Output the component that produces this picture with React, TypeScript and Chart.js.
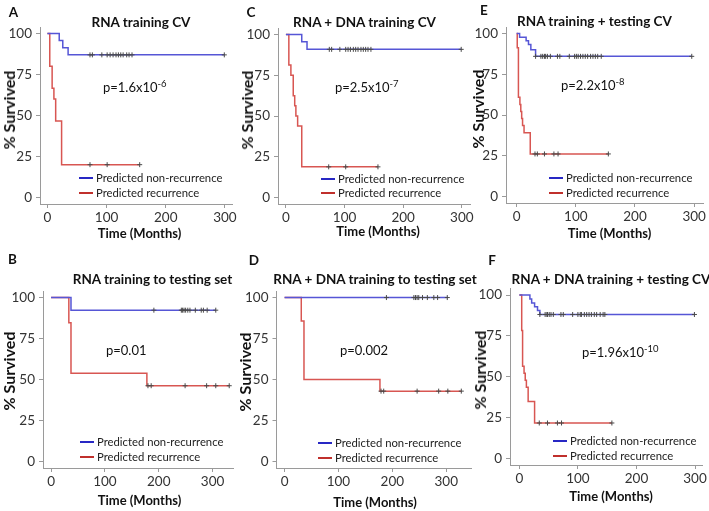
import React, { useEffect, useRef } from "react";
import { Chart, registerables } from "chart.js";

Chart.register(...registerables);

const FONT = "Lato, 'Open Sans', 'DejaVu Sans', sans-serif";
Chart.defaults.font.family = FONT;

// ---------- shared labels / ticks ----------
const X_TICKS = [0, 100, 200, 300];
const Y_TICKS = [0, 25, 50, 75, 100];
const SERIES_LABELS = ["Predicted non-recurrence", "Predicted recurrence"];
const X_TITLE = "Time (Months)";
const Y_TITLE = "% Survived";

// ---------- Panel A: RNA training CV ----------
const A_NR_TIME = [0, 20, 26, 35, 299];
const A_NR_SURV = [100, 95.7, 91.3, 87.0, 87.0];
const A_NR_CENS = [72, 76, 92, 101, 106, 111, 116, 120, 124, 128, 134, 138, 143, 299];
const A_R_TIME = [0, 4, 8, 11, 14, 24, 156];
const A_R_SURV = [100, 80, 66.7, 60, 46.7, 20, 20];
const A_R_CENS = [72, 101, 156];

// ---------- Panel C: RNA + DNA training CV ----------
const C_NR_TIME = [0, 27, 36, 299];
const C_NR_SURV = [100, 95.5, 90.9, 90.9];
const C_NR_CENS = [74, 78, 92, 102, 106, 110, 115, 119, 123, 128, 132, 136, 140, 145, 299];
const C_R_TIME = [0, 5, 8.5, 12.5, 15, 17, 20, 27, 157];
const C_R_SURV = [100, 81.3, 75, 62.5, 56.3, 50, 43.8, 18.8, 18.8];
const C_R_CENS = [73, 102, 157];

// ---------- Panel E: RNA training + testing CV ----------
const E_NR_TIME = [0, 5, 16, 20, 24, 32, 296];
const E_NR_SURV = [100, 97.7, 95.5, 93.2, 90.0, 86.0, 86.0];
const E_NR_CENS = [32, 41, 44, 47, 49, 52, 57, 69, 73, 89, 98, 101, 104, 108, 112, 116, 120, 125, 129, 133, 137, 143, 296];
const E_R_TIME = [0, 1, 3, 5.5, 7, 8.5, 10, 12.5, 23, 155];
const E_R_SURV = [100, 91.3, 60.9, 56.5, 52.2, 47.8, 43.5, 39.1, 26.1, 26.1];
const E_R_CENS = [31, 35, 47, 63, 70, 155];

// ---------- Panel B: RNA training to testing set ----------
const B_NR_TIME = [0, 37, 306];
const B_NR_SURV = [100, 92.3, 92.3];
const B_NR_CENS = [191, 242, 244, 247, 250, 254, 258, 268, 279, 283, 290, 306];
const B_R_TIME = [0, 33, 37, 178, 331];
const B_R_SURV = [100, 84.6, 53.8, 46.2, 46.2];
const B_R_CENS = [180, 186, 249, 289, 306, 331];

// ---------- Panel D: RNA + DNA training to testing set ----------
const D_NR_TIME = [0, 303];
const D_NR_SURV = [100, 100];
const D_NR_CENS = [189, 240, 243, 246, 249, 256, 265, 277, 284, 302];
const D_R_TIME = [0, 31, 36, 177, 328];
const D_R_SURV = [100, 85.7, 50, 42.9, 42.9];
const D_R_CENS = [179, 184, 246, 286, 303, 328];

// ---------- Panel F: RNA + DNA training + testing CV ----------
const F_NR_TIME = [0, 18, 21, 26, 31, 35, 299];
const F_NR_SURV = [100, 97.6, 95.2, 92.9, 90.5, 88.1, 88.1];
const F_NR_CENS = [35, 44, 47, 48, 51, 54, 58, 71, 75, 91, 100, 104, 106, 111, 115, 119, 123, 128, 132, 138, 143, 146, 299];
const F_R_TIME = [0, 4, 5.5, 8, 10, 12, 15, 26, 158];
const F_R_SURV = [100, 78.3, 56.5, 52.2, 47.8, 43.5, 34.8, 21.7, 21.7];
const F_R_CENS = [34, 48, 65, 72, 158];

const LINE_COLORS = ["#5656d6", "#d85652"];
const LEGEND_COLORS = ["#2828c4", "#c0302c"];
const CENSOR_COLOR = "#4a4a4a";

type Panel = {
  letter: string;
  title: string;
  pText: string;
  pExp: string;
  nrT: number[]; nrS: number[]; nrC: number[];
  rT: number[]; rS: number[]; rC: number[];
  xRange: [number, number];
  canvas: { x: number; y: number; w: number; h: number };
  area: { l: number; r: number; t: number; b: number };
  yTitlePos: [number, number];
  xTitlePos: [number, number];
  letterPos: [number, number];
  titlePos: [number, number];
  pPos: [number, number];
  legendPos: [number, number, number];
};

const PANELS: Panel[] = [
  {
    letter: "A", title: "RNA training CV", pText: "p=1.6x10", pExp: "-6",
    nrT: A_NR_TIME, nrS: A_NR_SURV, nrC: A_NR_CENS, rT: A_R_TIME, rS: A_R_SURV, rC: A_R_CENS,
    xRange: [-12.5, 312],
    canvas: { x: 0, y: 0, w: 240, h: 241 }, area: { l: 40, r: 232, t: 27, b: 204 },
    yTitlePos: [9, 110], xTitlePos: [139.5, 233],
    letterPos: [13.5, 13], titlePos: [141, 23], pPos: [103, 87], legendPos: [79, 178, 193],
  },
  {
    letter: "C", title: "RNA + DNA training CV", pText: "p=2.5x10", pExp: "-7",
    nrT: C_NR_TIME, nrS: C_NR_SURV, nrC: C_NR_CENS, rT: C_R_TIME, rS: C_R_SURV, rC: C_R_CENS,
    xRange: [-13.5, 314],
    canvas: { x: 236, y: 0, w: 242, h: 241 }, area: { l: 278, r: 470, t: 28, b: 204 },
    yTitlePos: [247, 110], xTitlePos: [378, 231],
    letterPos: [251, 12.5], titlePos: [364.5, 23], pPos: [335, 87], legendPos: [321, 179, 193],
  },
  {
    letter: "E", title: "RNA training + testing CV", pText: "p=2.2x10", pExp: "-8",
    nrT: E_NR_TIME, nrS: E_NR_SURV, nrC: E_NR_CENS, rT: E_R_TIME, rS: E_R_SURV, rC: E_R_CENS,
    xRange: [-18, 315],
    canvas: { x: 468, y: 0, w: 241, h: 241 }, area: { l: 506, r: 703, t: 27, b: 203 },
    yTitlePos: [478, 109], xTitlePos: [609.5, 233],
    letterPos: [484, 11], titlePos: [594.5, 22], pPos: [561, 85], legendPos: [549, 178, 193],
  },
  {
    letter: "B", title: "RNA training to testing set", pText: "p=0.01", pExp: "",
    nrT: B_NR_TIME, nrS: B_NR_SURV, nrC: B_NR_CENS, rT: B_R_TIME, rS: B_R_SURV, rC: B_R_CENS,
    xRange: [-15, 338],
    canvas: { x: 0, y: 255, w: 241, h: 254 }, area: { l: 43, r: 233, t: 291, b: 468 },
    yTitlePos: [9, 371], xTitlePos: [139.5, 499.5],
    letterPos: [12.5, 259.5], titlePos: [152.5, 280], pPos: [106, 350], legendPos: [80, 442, 457],
  },
  {
    letter: "D", title: "RNA + DNA training to testing set", pText: "p=0.002", pExp: "",
    nrT: D_NR_TIME, nrS: D_NR_SURV, nrC: D_NR_CENS, rT: D_R_TIME, rS: D_R_SURV, rC: D_R_CENS,
    xRange: [-15, 346],
    canvas: { x: 235, y: 255, w: 245, h: 255 }, area: { l: 276.5, r: 471, t: 291, b: 468 },
    yTitlePos: [245, 372], xTitlePos: [375, 501.5],
    letterPos: [254, 261], titlePos: [375, 280], pPos: [340, 350], legendPos: [318, 443, 458],
  },
  {
    letter: "F", title: "RNA + DNA training + testing CV", pText: "p=1.96x10", pExp: "-10",
    nrT: F_NR_TIME, nrS: F_NR_SURV, nrC: F_NR_CENS, rT: F_R_TIME, rS: F_R_SURV, rC: F_R_CENS,
    xRange: [-16, 313],
    canvas: { x: 470, y: 255, w: 239, h: 250 }, area: { l: 510, r: 703, t: 288.5, b: 465 },
    yTitlePos: [480, 370], xTitlePos: [611, 495.5],
    letterPos: [492, 261], titlePos: [611, 280], pPos: [582, 352], legendPos: [553, 441, 456],
  },
];

function survAt(T: number[], S: number[], t: number) {
  let v = S[0];
  for (let i = 0; i < T.length; i++) if (T[i] <= t) v = S[i];
  return v;
}

function KMPanel({ p }: { p: Panel }) {
  const ref = useRef<HTMLCanvasElement | null>(null);
  useEffect(() => {
    if (!ref.current) return;
    const { canvas, area } = p;
    const censorDs = (T: number[], S: number[], C: number[], label: string) => ({
      label,
      data: C.map((t) => ({ x: t, y: survAt(T, S, t) })),
      showLine: false,
      pointStyle: "cross",
      pointRadius: 2.5,
      pointBorderWidth: 1,
      pointBorderColor: CENSOR_COLOR,
      borderColor: CENSOR_COLOR,
      backgroundColor: CENSOR_COLOR,
    });
    const lineDs = (T: number[], S: number[], label: string, color: string) => ({
      label,
      data: T.map((t, i) => ({ x: t, y: S[i] })),
      stepped: true,
      borderColor: color,
      borderWidth: 1.5,
      pointRadius: 0,
      fill: false,
    });
    const axisCommon = {
      type: "linear",
      grid: { drawOnChartArea: false, drawTicks: true, tickLength: 4, color: "#9a9a9a", lineWidth: 1 },
      border: { display: true, color: "#9a9a9a", width: 1 },
      title: { display: false },
    };
    const chart = new Chart(ref.current, {
      type: "line",
      data: {
        datasets: [
          censorDs(p.nrT, p.nrS, p.nrC, "censor nr"),
          censorDs(p.rT, p.rS, p.rC, "censor r"),
          lineDs(p.nrT, p.nrS, SERIES_LABELS[0], LINE_COLORS[0]),
          lineDs(p.rT, p.rS, SERIES_LABELS[1], LINE_COLORS[1]),
        ],
      } as any,
      options: {
        responsive: false,
        animation: false,
        devicePixelRatio: 1,
        layout: {
          padding: { top: area.t - canvas.y, right: canvas.x + canvas.w - area.r, left: 0, bottom: 0 },
        },
        plugins: { legend: { display: false }, tooltip: { enabled: false }, title: { display: false } },
        scales: {
          x: {
            ...axisCommon,
            min: p.xRange[0],
            max: p.xRange[1],
            afterBuildTicks: (s: any) => { s.ticks = X_TICKS.map((v) => ({ value: v })); },
            afterFit: (s: any) => { s.height = canvas.y + canvas.h - area.b; },
            ticks: { color: "#333", font: { family: FONT, size: 13.5 }, padding: 2, maxRotation: 0, autoSkip: false },
          },
          y: {
            ...axisCommon,
            min: -4,
            max: 104,
            afterBuildTicks: (s: any) => { s.ticks = Y_TICKS.map((v) => ({ value: v })); },
            afterFit: (s: any) => { s.width = area.l - canvas.x; },
            ticks: { color: "#333", font: { family: FONT, size: 13.5 }, padding: 4, autoSkip: false },
          },
        },
      } as any,
    });
    return () => chart.destroy();
  }, [p]);

  const abs = (x: number, y: number): React.CSSProperties => ({ position: "absolute", left: x, top: y, whiteSpace: "nowrap", lineHeight: 1 });

  return (
    <>
      <canvas
        ref={ref}
        width={p.canvas.w}
        height={p.canvas.h}
        style={{ position: "absolute", left: p.canvas.x, top: p.canvas.y, width: p.canvas.w, height: p.canvas.h }}
      />
      <div style={{ ...abs(p.letterPos[0], p.letterPos[1]), transform: "translate(-50%,-50%)", fontWeight: 700, fontSize: 13.5, color: "#111" }}>
        {p.letter}
      </div>
      <div style={{ ...abs(p.titlePos[0], p.titlePos[1]), transform: "translate(-50%,-50%)", fontWeight: 700, fontSize: 13.5, color: "#111" }}>
        {p.title}
      </div>
      <div style={{ ...abs(p.yTitlePos[0], p.yTitlePos[1]), transform: "translate(-50%,-50%) rotate(-90deg)", fontWeight: 700, fontSize: 16, color: "#111" }}>
        {Y_TITLE}
      </div>
      <div style={{ ...abs(p.xTitlePos[0], p.xTitlePos[1]), transform: "translate(-50%,-50%)", fontWeight: 700, fontSize: 13, color: "#111" }}>
        {X_TITLE}
      </div>
      <div style={{ ...abs(p.pPos[0], p.pPos[1]), transform: "translateY(-50%)", fontSize: 13, color: "#111" }}>
        {p.pText}
        {p.pExp ? <sup style={{ fontSize: 9.5, lineHeight: 0, verticalAlign: 5 }}>{p.pExp}</sup> : null}
      </div>
      {SERIES_LABELS.map((lab, i) => (
        <React.Fragment key={lab}>
          <div style={{ position: "absolute", left: p.legendPos[0], top: p.legendPos[1 + i] - 1, width: 14, height: 2, background: LEGEND_COLORS[i] }} />
          <div style={{ ...abs(p.legendPos[0] + 17, p.legendPos[1 + i]), transform: "translateY(-50%)", fontSize: 11.3, color: "#222" }}>
            {lab}
          </div>
        </React.Fragment>
      ))}
    </>
  );
}

export default function App() {
  return (
    <div style={{ position: "absolute", left: 0, top: 0, width: 709, height: 511, background: "#fff", fontFamily: FONT, overflow: "hidden" }}>
      {PANELS.map((p) => (
        <KMPanel key={p.letter} p={p} />
      ))}
    </div>
  );
}
